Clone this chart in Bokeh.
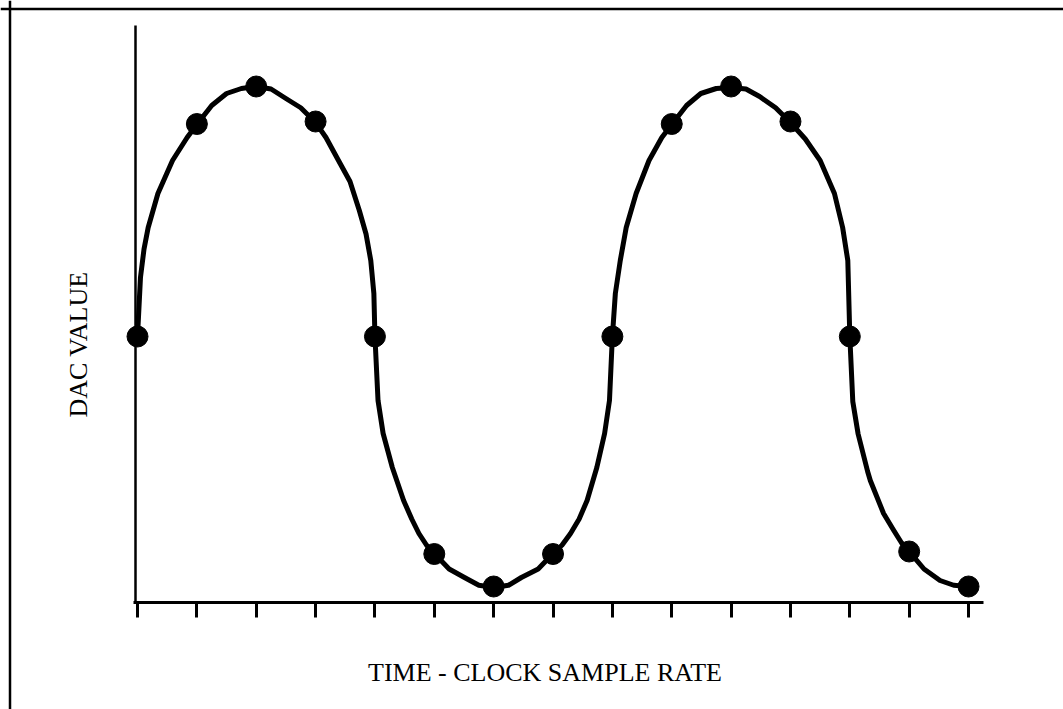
import math
from bokeh.plotting import figure
from bokeh.models import Range1d, LinearAxis, FixedTicker, Span
from bokeh.core.properties import value
from bokeh.embed import file_html
from bokeh.resources import INLINE

# ---- data (sample index vs DAC value, normalised to the peak) ----
sample_index = list(range(15))
dac_value = [0, 0.85, 1.0, 0.86, 0, -0.87, -1.0, -0.87, 0, 0.85, 1.0, 0.86, 0, -0.86, -1.0]

# smooth reconstructed waveform
curve_t = [0, 0.05, 0.11, 0.18, 0.344, 0.59, 0.836, 1, 1.25, 1.5, 1.75, 2, 2.25, 2.5, 2.75, 3,
           3.175, 3.386, 3.58, 3.737, 3.85, 3.93, 3.982, 4,
           4.052, 4.138, 4.293, 4.483, 4.62, 4.741, 4.87, 5, 5.25, 5.508, 5.75, 6, 6.25, 6.467, 6.75, 7,
           7.15, 7.295, 7.44, 7.574, 7.738, 7.869, 7.951, 8,
           8.05, 8.133, 8.233, 8.4, 8.617, 8.833, 9, 9.25, 9.49, 9.75, 10, 10.25, 10.48, 10.75, 11,
           11.25, 11.5, 11.741, 11.879, 11.966, 12,
           12.05, 12.14, 12.3, 12.345, 12.569, 12.741, 12.87, 13, 13.25, 13.52, 13.75, 14]
curve_v = [0, 0.236, 0.35, 0.436, 0.572, 0.704, 0.796, 0.848, 0.924, 0.972, 0.992, 1.0, 0.99, 0.952, 0.915, 0.856,
           0.796, 0.704, 0.62, 0.504, 0.41, 0.304, 0.172, 0,
           -0.256, -0.388, -0.524, -0.656, -0.73, -0.788, -0.835, -0.868, -0.93, -0.964, -0.995, -1.004, -0.995, -0.964, -0.93, -0.868,
           -0.835, -0.788, -0.73, -0.656, -0.524, -0.388, -0.256, 0,
           0.172, 0.304, 0.436, 0.572, 0.704, 0.796, 0.848, 0.924, 0.972, 0.992, 0.996, 0.99, 0.96, 0.915, 0.856,
           0.79, 0.704, 0.572, 0.436, 0.304, 0,
           -0.26, -0.39, -0.54, -0.576, -0.708, -0.776, -0.825, -0.86, -0.93, -0.976, -0.995, -1.0]

x_label = "TIME - CLOCK SAMPLE RATE"
y_label = "DAC VALUE"

# ---- layout (page pixel geometry; the canvas starts at the page origin) ----
W, H = 1063, 709
PX0, PXS = 137.0, 59.36      # page x of sample 0, px per sample
PY0, PYS = 336.0, 250.0      # page y of value 0, px per unit
def dx(px):
    return (px - PX0) / PXS
def dy(py):
    return (PY0 - py) / PYS

p = figure(width=W, height=H, output_backend="svg", toolbar_location=None,
           x_axis_location=None, y_axis_location=None,
           x_range=Range1d(dx(0), dx(W)), y_range=Range1d(dy(H), dy(0)),
           min_border=0, outline_line_color=None, background_fill_color="white",
           border_fill_color="white")
p.grid.visible = False

# frame lines of the figure box (left and top)
p.add_layout(Span(location=dx(9.5), dimension="height", line_color="black", line_width=2.5))
p.add_layout(Span(location=dy(8.5), dimension="width", line_color="black", line_width=2.5))

xaxis = LinearAxis(fixed_location=dy(602), bounds=(dx(133), dx(983)),
                   ticker=FixedTicker(ticks=sample_index))
xaxis.axis_line_width = 3
xaxis.axis_line_color = "black"
xaxis.major_tick_line_width = 3
xaxis.major_tick_line_color = "black"
xaxis.major_tick_in = 0
xaxis.major_tick_out = 15
xaxis.minor_tick_line_color = None
xaxis.major_label_text_color = None
p.add_layout(xaxis, "below")

yaxis = LinearAxis(fixed_location=dx(134.5), bounds=(dy(602), dy(25)),
                   ticker=FixedTicker(ticks=[]))
yaxis.axis_line_width = 2.5
yaxis.axis_line_color = "black"
yaxis.major_tick_line_color = None
yaxis.minor_tick_line_color = None
yaxis.major_label_text_color = None
p.add_layout(yaxis, "left")

p.line(curve_t, curve_v, line_width=5, line_color="black", line_join="round", line_cap="round")
p.scatter(sample_index, dac_value, size=21, marker="circle", fill_color="black", line_color="black")

p.text(x=[dx(544.5)], y=[dy(672)], text=[x_label], text_font=value("Liberation Serif"),
       text_font_size="26px", text_align="center", text_baseline="middle", text_color="black")
p.text(x=[dx(78)], y=[dy(344)], text=[y_label], angle=math.pi / 2, text_font=value("Liberation Serif"),
       text_font_size="26px", text_align="center", text_baseline="middle", text_color="black")

open("out.html", "w").write(file_html(p, INLINE))
